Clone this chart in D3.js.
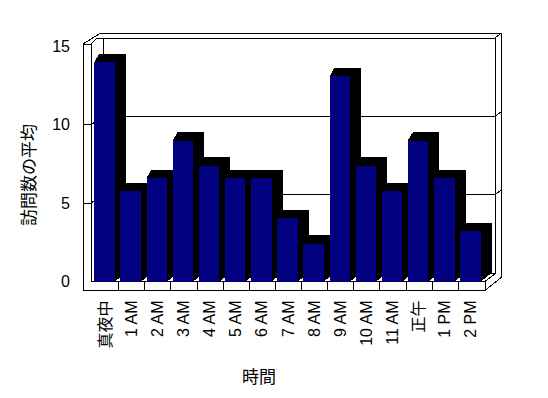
<!DOCTYPE html>
<html>
<head>
<meta charset="utf-8">
<script src="https://cdn.jsdelivr.net/npm/d3@7"></script>
<style>
  html, body { margin: 0; padding: 0; background: #fff; }
  svg { display: block; }
  text { font-family: "Liberation Sans", Arial, "Noto Sans CJK JP", sans-serif; fill: #000; }
</style>
</head>
<body>
<div id="chart"></div>
<script>
// ── Data ──────────────────────────────────────────────────────────────
const categories = ['真夜中', '1 AM', '2 AM', '3 AM', '4 AM', '5 AM', '6 AM', '7 AM',
  '8 AM', '9 AM', '10 AM', '11 AM', '正午', '1 PM', '2 PM'];
const visits = [14, 5.75, 6.6, 9, 7.4, 6.6, 6.6, 4.05, 2.4, 13.1, 7.4, 5.75, 9, 6.6, 3.2];
const yTicks = [0, 5, 10, 15];
const yTitle = '訪問数の平均';
const xTitle = '時間';

// ── Layout ────────────────────────────────────────────────────────────
const W = 548, H = 398;
const X0 = 92, X1 = 484;           // front plane of plot
const Y0 = 281.5, YT = 46.5;       // value 0 / value 15 on front plane
const DX = 11, DY = -8.5;          // depth offset to back wall
const TX = 6.7, TY = -5;           // back wall thickness
const WALL_L = 83, WALL_TOP = 44, FLOOR_B = 290.5;
const NAVY = '#000080';

const svg = d3.select('#chart').append('svg')
  .attr('width', W).attr('height', H);

const x = d3.scaleBand().domain(categories).range([X0, X1]);
const y = d3.scaleLinear().domain([0, 15]).range([Y0, YT]);

const g = svg.append('g')
  .attr('fill', 'none')
  .attr('stroke', '#000')
  .attr('stroke-width', 1)
  .attr('shape-rendering', 'crispEdges');

const line = (pts) => g.append('path').attr('d', d3.line()(pts));

// back wall (inner face + thickness)
const bx0 = X0 + DX, bx1 = X1 + DX, byT = YT + DY, byB = Y0 + DY;
g.append('rect').attr('x', bx0).attr('y', byT)
  .attr('width', bx1 - bx0).attr('height', byB - byT).attr('fill', '#fff');
line([[WALL_L, WALL_TOP], [bx0 - 2.3, byT + TY], [bx1 + TX, byT + TY], [bx1 + TX, byB + 4]]);
line([[bx1, byT], [bx1 + TX, byT + TY]]);
line([[X0 - 1, WALL_TOP], [bx0 - 6, byT], [bx0, byT]]);

// gridlines: back wall, left wall, right thickness
yTicks.filter(t => t > 0 && t < 15).forEach(t => {
  const yf = y(t), yb = y(t) + DY;
  line([[WALL_L, yf], [X0 - 1, yf], [bx0, yb], [bx1, yb], [bx1 + TX, yb + TY]]);
});

// floor
line([[X1 + 1, Y0], [X1 + 1 + DX, byB]]);
line([[X1 + 1, FLOOR_B], [bx1 + TX, byB + 4]]);

// left wall front face + floor front face
g.append('path')
  .attr('fill', '#fff')
  .attr('d', d3.line()([[WALL_L, WALL_TOP], [X0 - 1, WALL_TOP], [X0 - 1, Y0],
    [X1 + 1, Y0], [X1 + 1, FLOOR_B], [WALL_L, FLOOR_B], [WALL_L, WALL_TOP]]));
// redraw gridline ticks over wall face
yTicks.filter(t => t > 0 && t < 15).forEach(t => line([[WALL_L, y(t)], [X0 - 1, y(t)]]));

// floor separators
categories.slice(1).forEach(c => line([[Math.round(x(c)), Y0], [Math.round(x(c)), FLOOR_B]]));

// ── Bars ──────────────────────────────────────────────────────────────
const bw = x.bandwidth() * 0.785;
const bars = svg.append('g').attr('shape-rendering', 'crispEdges');
categories.forEach((c, i) => {
  const bx = x(c) + 2.3, bxr = bx + bw, yt = y(visits[i]);
  bars.append('path').attr('fill', '#000')
    .attr('d', d3.line()([[bx, yt], [bx + 5, yt + DY], [bxr + DX, yt + DY],
      [bxr + DX, Y0 + DY], [bxr, Y0]]) + 'Z');
  bars.append('rect').attr('fill', NAVY)
    .attr('x', bx).attr('y', yt).attr('width', bw).attr('height', Y0 - yt);
});

// ── Axes ──────────────────────────────────────────────────────────────
const yAxis = svg.append('g')
  .attr('transform', `translate(${WALL_L},0)`)
  .call(d3.axisLeft(y).tickValues(yTicks).tickSize(0).tickPadding(13));
yAxis.select('.domain').remove();
yAxis.selectAll('text').attr('font-size', '16px')
  .attr('font-family', '"Liberation Sans", Arial, sans-serif');

const xAxis = svg.append('g')
  .attr('transform', `translate(0,${FLOOR_B})`)
  .call(d3.axisBottom(x).tickSize(0));
xAxis.select('.domain').remove();
xAxis.selectAll('text')
  .attr('font-size', '16px')
  .attr('font-family', '"Liberation Sans", Arial, "Noto Sans CJK JP", sans-serif')
  .attr('text-anchor', 'end')
  .attr('dy', null)
  .attr('y', 0)
  .attr('dominant-baseline', 'central')
  .attr('transform', 'translate(0,10) rotate(-90)');

svg.append('text')
  .attr('transform', 'translate(29,175) rotate(-90)')
  .attr('text-anchor', 'middle')
  .attr('dominant-baseline', 'central')
  .attr('font-size', '17px')
  .attr('font-family', '"Noto Sans CJK JP", sans-serif')
  .text(yTitle);

svg.append('text')
  .attr('x', 259).attr('y', 377)
  .attr('text-anchor', 'middle')
  .attr('dominant-baseline', 'central')
  .attr('font-size', '17px')
  .attr('font-family', '"Noto Sans CJK JP", sans-serif')
  .text(xTitle);
</script>
</body>
</html>
